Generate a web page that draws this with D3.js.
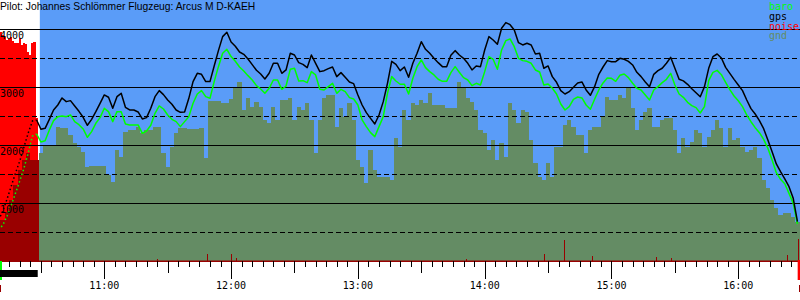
<!DOCTYPE html>
<html>
<head>
<meta charset="utf-8">
<script src="https://cdn.jsdelivr.net/npm/d3@7"></script>
<style>
  body { margin: 0; background: #fff; }
  svg { display: block; }
  .mono { font-family: "DejaVu Sans Mono", monospace; font-size: 10px; }
</style>
</head>
<body>
<script>
'use strict';

const title = "Pilot: Johannes Schlömmer Flugzeug: Arcus M D-KAEH";

// 2 minute samples of the flight log
const times = [
  "10:10","10:12","10:14","10:16","10:18","10:20","10:22","10:24","10:26","10:28",
  "10:30","10:32","10:34","10:36","10:38","10:40","10:42","10:44","10:46","10:48","10:50","10:52","10:54","10:56","10:58",
  "11:00","11:02","11:04","11:06","11:08","11:10","11:12","11:14","11:16","11:18","11:20","11:22","11:24","11:26","11:28",
  "11:30","11:32","11:34","11:36","11:38","11:40","11:42","11:44","11:46","11:48","11:50","11:52","11:54","11:56","11:58",
  "12:00","12:02","12:04","12:06","12:08","12:10","12:12","12:14","12:16","12:18","12:20","12:22","12:24","12:26","12:28",
  "12:30","12:32","12:34","12:36","12:38","12:40","12:42","12:44","12:46","12:48","12:50","12:52","12:54","12:56","12:58",
  "13:00","13:02","13:04","13:06","13:08","13:10","13:12","13:14","13:16","13:18","13:20","13:22","13:24","13:26","13:28",
  "13:30","13:32","13:34","13:36","13:38","13:40","13:42","13:44","13:46","13:48","13:50","13:52","13:54","13:56","13:58",
  "14:00","14:02","14:04","14:06","14:08","14:10","14:12","14:14","14:16","14:18","14:20","14:22","14:24","14:26","14:28",
  "14:30","14:32","14:34","14:36","14:38","14:40","14:42","14:44","14:46","14:48","14:50","14:52","14:54","14:56","14:58",
  "15:00","15:02","15:04","15:06","15:08","15:10","15:12","15:14","15:16","15:18","15:20","15:22","15:24","15:26","15:28",
  "15:30","15:32","15:34","15:36","15:38","15:40","15:42","15:44","15:46","15:48","15:50","15:52","15:54","15:56","15:58",
  "16:00","16:02","16:04","16:06","16:08","16:10","16:12","16:14","16:16","16:18","16:20","16:22","16:24","16:26","16:28"
];

// altitude from gps (m)
const gps = [
  712, 867, 1074, 1298, 1522, 1729, 1971, 2212, 2419, 2436,
  2276, 2293, 2448, 2609, 2695, 2816, 2753, 2770, 2678, 2586, 2483, 2345, 2448, 2580, 2724,
  2868, 2828, 2638, 2839, 2896, 2655, 2609, 2609, 2575, 2454, 2477, 2638, 2839, 2942, 2874,
  2782, 2707, 2609, 2569, 2575, 2810, 3098, 3241, 3224, 3098, 3098, 3368, 3632, 3874, 3950,
  3782, 3707, 3609, 3569, 3488, 3391, 3293, 3230, 3144, 3241, 3414, 3414, 3241, 3299, 3586,
  3557, 3425, 3396, 3339, 3557, 3414, 3270, 3287, 3322, 3350, 3184, 3253, 3172, 3092, 3063,
  2868, 2695, 2563, 2465, 2368, 2523, 2753, 3069, 3448, 3396, 3287, 3350, 3172, 3414, 3586,
  3787, 3655, 3586, 3500, 3425, 3356, 3356, 3552, 3632, 3557, 3500, 3414, 3299, 3368, 3356,
  3644, 3874, 3816, 3741, 4017, 4115, 4080, 3988, 3770, 3730, 3759, 3730, 3575, 3586, 3328,
  3368, 3184, 3086, 2942, 2885, 2925, 3000, 3075, 3092, 2954, 2862, 3011, 3224, 3350, 3460,
  3442, 3442, 3500, 3483, 3448, 3385, 3259, 3184, 3092, 3011, 3224, 3287, 3328, 3414, 3517,
  3328, 3138, 3110, 3051, 2976, 2907, 2838, 3011, 3327, 3528, 3574, 3505, 3344, 3241, 3137,
  3040, 2942, 2781, 2632, 2540, 2425, 2287, 2091, 1890, 1678, 1545, 1419, 1287, 1086, 683
];

// barometric altitude (m)
const baro = [
  540, 626, 781, 971, 1177, 1384, 1608, 1867, 2160, 2195,
  2057, 2080, 2264, 2425, 2494, 2506, 2494, 2523, 2408, 2356, 2282, 2138, 2236, 2379, 2477,
  2638, 2580, 2408, 2580, 2580, 2368, 2351, 2351, 2351, 2207, 2247, 2345, 2552, 2678, 2626,
  2523, 2448, 2408, 2322, 2408, 2494, 2724, 2885, 2942, 2839, 2810, 3098, 3356, 3586, 3655,
  3529, 3448, 3350, 3282, 3201, 3126, 3029, 2971, 2896, 2983, 3126, 3126, 2965, 3023, 3310,
  3328, 3109, 3115, 3080, 3270, 3213, 2965, 2954, 3011, 3069, 2896, 2965, 2925, 2822, 2799,
  2695, 2437, 2322, 2218, 2149, 2322, 2494, 2896, 3184, 3109, 3052, 3052, 2885, 3155, 3356,
  3471, 3339, 3270, 3213, 3138, 3103, 3103, 3253, 3356, 3259, 3167, 3126, 3029, 3069, 3040,
  3270, 3529, 3483, 3310, 3644, 3805, 3833, 3701, 3500, 3460, 3448, 3414, 3299, 3264, 3040,
  3057, 2983, 2885, 2713, 2609, 2667, 2793, 2833, 2816, 2695, 2621, 2793, 2954, 3075, 3161,
  3155, 3103, 3207, 3230, 3167, 3069, 2983, 2954, 2868, 2782, 2954, 3011, 3080, 3138, 3241,
  3040, 2885, 2827, 2741, 2683, 2649, 2557, 2666, 3114, 3258, 3292, 3218, 3086, 2959, 2850,
  2769, 2666, 2522, 2407, 2304, 2218, 2103, 1948, 1747, 1528, 1413, 1338, 1172, 999, 643
];

// ground elevation below the glider (m)
const gnd = [
  712, 712, 850, 1057, 1315, 1574, 1746, 1867, 1746, 1746,
  1862, 2006, 2006, 2006, 2322, 2293, 2293, 2178, 2034, 1977, 1891, 1632, 1649, 1649, 1649,
  1649, 1488, 1374, 1919, 1805, 2236, 2264, 2264, 2322, 2207, 2264, 2264, 2322, 2322, 1862,
  1632, 1977, 2207, 2293, 2293, 2276, 2276, 2276, 2293, 1776, 2764, 2764, 2764, 2724, 2724,
  2793, 2983, 3098, 2609, 2810, 2667, 2753, 2667, 2437, 2379, 2667, 2437, 2782, 2782, 2810,
  2437, 2667, 2609, 2724, 2437, 1862, 2437, 2810, 2868, 2868, 2322, 2638, 2494, 2724, 2437,
  1747, 1632, 1345, 1919, 1575, 1460, 1460, 1460, 1402, 2121, 1977, 2609, 2437, 2724, 2695,
  2782, 2724, 2896, 2695, 2695, 2695, 2638, 2638, 2638, 3098, 2983, 2810, 2753, 2609, 2264,
  2207, 1919, 2092, 1747, 2034, 1805, 2724, 2609, 2379, 2609, 2580, 2092, 1690, 1460, 1402,
  1690, 1460, 1977, 1977, 2351, 2437, 2322, 2178, 2178, 1862, 2264, 2322, 2322, 2494, 2839,
  2782, 2782, 2868, 2810, 2983, 2638, 2264, 2437, 2580, 2649, 2322, 2322, 2437, 2477, 2477,
  2264, 1862, 2130, 1976, 2063, 2264, 2206, 1976, 2149, 2264, 2436, 2292, 1976, 2292, 2091,
  2120, 1976, 1890, 1919, 1976, 1775, 1402, 1258, 1057, 913, 798, 827, 827, 770, 683
];

// engine noise during the self launch, 1 minute samples (0..1000)
const noiseTimes = ["10:10","10:11","10:12","10:13","10:14","10:15","10:16","10:17","10:18","10:19",
  "10:20","10:21","10:22","10:23","10:24","10:25","10:26","10:27","10:28"];
const noise = [870, 879, 866, 860, 847, 850, 860, 844, 837, 834, 853, 828, 834, 832, 802, 790, 834, 840, 548];

// short noise peaks later in the flight
const spikeTimes = ["11:25:00","11:48:45","12:00:00","12:02:20","13:51:00","14:28:10",
  "14:37:40","14:50:55","15:21:00","15:28:20","16:23:00","16:28:06"];
const spikes = [8, 27, 27, 11, 8, 27, 80, 19, 15, 11, 23, 84];

const yLabelTicks = [1000, 2000, 3000, 4000];
const yHalfTicks = [500, 1500, 2500, 3500];
const legendNames = ["baro", "gps", "noise", "gnd"];
const legendColors = ["#00ff00", "#000000", "#ff0000", "#648c64"];

const viewStart = "10:10:39", viewEnd = "16:29:12";
const engineEnd = "10:28:30", taskStart = "10:29:30", landing = "16:28:06";

const colors = { sky: "#5a9cf8", gnd: "#648c64", engineGnd: "#990000", noise: "#ff0000", spike: "#990000" };

(function() {
  const W = 800, H = 300;
  const parseT = s => d3.timeParse(s.length > 5 ? "%H:%M:%S" : "%H:%M")(s);

  const svg = d3.select("body").append("svg")
    .attr("width", W)
    .attr("height", H);

  const x = d3.scaleTime()
    .domain([parseT(viewStart), parseT(viewEnd)])
    .range([0, W]);
  const y = d3.scaleLinear().domain([0, 4500]).range([261.3, 0.3]);
  const yNoise = d3.scaleLinear().domain([0, 1000]).range([261.3, 0]);

  const engEnd = parseT(engineEnd);
  const rows = times.map((t, i) => ({ t: parseT(t), gps: gps[i], baro: baro[i], gnd: gnd[i] }));

  // sky behind the free flight
  svg.append("rect")
    .attr("x", x(parseT(taskStart)))
    .attr("y", 0)
    .attr("width", W - x(parseT(taskStart)))
    .attr("height", y(0))
    .attr("fill", colors.sky);

  // engine noise bars
  svg.append("g").selectAll("rect")
    .data(noiseTimes.map((t, i) => ({ t: parseT(t), v: noise[i] })))
    .join("rect")
      .attr("x", d => x(d3.timeSecond.offset(d.t, -30)))
      .attr("width", d => x(d3.timeSecond.offset(d.t, 30)) - x(d3.timeSecond.offset(d.t, -30)))
      .attr("y", d => yNoise(d.v))
      .attr("height", d => yNoise(0) - yNoise(d.v))
      .attr("fill", colors.noise)
      .attr("shape-rendering", "crispEdges");

  // ground elevation bars
  svg.append("g").selectAll("rect")
    .data(rows)
    .join("rect")
      .attr("x", d => x(d3.timeMinute.offset(d.t, -1)))
      .attr("width", d => x(d3.timeMinute.offset(d.t, 1)) - x(d3.timeMinute.offset(d.t, -1)))
      .attr("y", d => y(d.gnd))
      .attr("height", d => y(0) - y(d.gnd))
      .attr("fill", d => d.t < engEnd ? colors.engineGnd : colors.gnd)
      .attr("shape-rendering", "crispEdges");

  // noise spikes in flight
  svg.append("g").selectAll("rect")
    .data(spikeTimes.map((t, i) => ({ t: parseT(t), v: spikes[i] })))
    .join("rect")
      .attr("x", d => x(d.t))
      .attr("width", d => Math.max(1, x(d3.timeSecond.offset(d.t, 30)) - x(d.t)))
      .attr("y", d => yNoise(d.v))
      .attr("height", d => yNoise(0) - yNoise(d.v))
      .attr("fill", colors.spike)
      .attr("shape-rendering", "crispEdges");

  // horizontal grid
  svg.append("g").selectAll("line")
    .data(yLabelTicks.concat(yHalfTicks))
    .join("line")
      .attr("x1", 0).attr("x2", W)
      .attr("y1", d => y(d)).attr("y2", d => y(d))
      .attr("stroke", "#000")
      .attr("stroke-dasharray", d => yHalfTicks.includes(d) ? "5,3" : null)
      .attr("shape-rendering", "crispEdges");

  // baseline
  svg.append("line")
    .attr("x1", 0).attr("x2", W)
    .attr("y1", y(0)).attr("y2", y(0))
    .attr("stroke", colors.spike)
    .attr("stroke-width", 1.5);

  // baro and gps lines, dotted while the engine runs
  const k = rows.findIndex(r => r.t > engEnd);
  function drawSeries(key, color) {
    const line = d3.line().x(d => x(d.t)).y(d => y(d[key]));
    svg.append("path")
      .datum(rows.slice(0, k))
      .attr("fill", "none")
      .attr("stroke", color)
      .attr("stroke-width", 1.5)
      .attr("stroke-dasharray", "1.5,2.5")
      .attr("d", line);
    svg.append("path")
      .datum(rows.slice(k - 1))
      .attr("fill", "none")
      .attr("stroke", color)
      .attr("stroke-width", 1.5)
      .attr("stroke-linejoin", "round")
      .attr("d", line);
  }
  drawSeries("baro", legendColors[0]);
  drawSeries("gps", legendColors[1]);

  // time axis: 5 min ticks, longer at half hours and hours
  const ticks = x.ticks(d3.timeMinute.every(5));
  const tickLen = t => t.getMinutes() === 0 ? 18 : (t.getMinutes() === 30 ? 12 : 6);
  svg.append("g").selectAll("line")
    .data(ticks)
    .join("line")
      .attr("x1", d => Math.round(x(d)) + 0.5).attr("x2", d => Math.round(x(d)) + 0.5)
      .attr("y1", 261).attr("y2", d => 261 + tickLen(d))
      .attr("stroke", "#000");
  svg.append("g").selectAll("text")
    .data(ticks.filter(t => t.getMinutes() === 0))
    .join("text")
      .attr("class", "mono")
      .attr("x", d => x(d))
      .attr("y", 289)
      .attr("text-anchor", "middle")
      .text(d3.timeFormat("%H:%M"));

  // altitude labels
  svg.append("g").selectAll("text")
    .data(yLabelTicks)
    .join("text")
      .attr("class", "mono")
      .attr("x", 0)
      .attr("y", d => y(d) + 10)
      .text(d => d);

  // launch / engine / landing markers under the axis
  const x0 = x(parseT(viewStart));
  svg.append("rect").attr("x", x0).attr("y", 261).attr("width", 2).attr("height", 19).attr("fill", "#00ff00");
  svg.append("rect").attr("x", x0).attr("y", 270).attr("width", x(engEnd) - x0).attr("height", 7).attr("fill", "#000");
  svg.append("rect").attr("x", x0).attr("y", 285).attr("width", 1).attr("height", 7).attr("fill", colors.spike);
  svg.append("rect").attr("x", x(parseT(landing))).attr("y", 260).attr("width", W - x(parseT(landing))).attr("height", 20).attr("fill", colors.noise);
  svg.append("rect").attr("x", W - 1).attr("y", 285).attr("width", 1).attr("height", 7).attr("fill", colors.spike);

  // title
  svg.append("text")
    .attr("x", 0)
    .attr("y", 10)
    .style("font-family", "'Liberation Sans', Arial, sans-serif")
    .style("font-size", "10.3px")
    .text(title);

  // legend
  svg.append("g").selectAll("text")
    .data(legendNames)
    .join("text")
      .attr("class", "mono")
      .attr("x", 769)
      .attr("y", (d, i) => 10 + i * 9.8)
      .attr("fill", (d, i) => legendColors[i])
      .text(d => d);
})();
</script>
</body>
</html>
